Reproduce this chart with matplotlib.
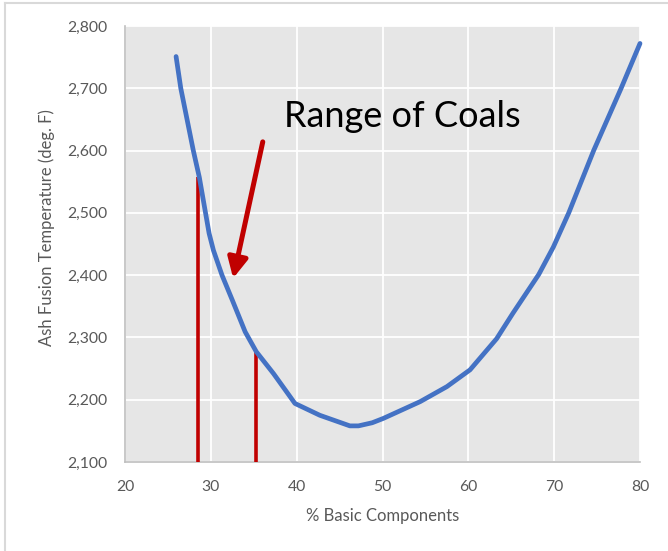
import matplotlib
matplotlib.use('Agg')
import matplotlib.pyplot as plt
from matplotlib.lines import Line2D
from matplotlib.ticker import FuncFormatter, MultipleLocator

plt.rcParams['font.family'] = ['Lato', 'DejaVu Sans']

# 曲线数据：碱性成分百分比 vs 灰熔融温度
basic_pct = [25.95, 26.5, 27.96, 28.66, 29.8, 30.3, 31.3, 32.5, 34.0, 35.3, 37.3, 39.8,
             42.7, 46.2, 47.2, 48.8, 50.1, 54.4, 57.5, 60.2, 63.3, 65.2, 68.2, 69.9,
             71.7, 74.6, 77.8, 80.0]
fusion_temp = [2751, 2700, 2600, 2557, 2467, 2440, 2400, 2360, 2309, 2277, 2242, 2194,
               2175, 2158, 2158, 2163, 2170, 2197, 2221, 2248, 2298, 2339, 2401, 2445,
               2500, 2600, 2700, 2772]

# 煤种范围的两条红线
range_x = [28.45, 35.3]
range_top = [2557, 2278]

# 注释文字与箭头
note_text = 'Range of Coals'
note_pos = (52.3, 2638)
arrow_start = (36.05, 2614)
arrow_end = (32.6, 2395)

blue = '#4472C4'
red = '#C00000'
gray_txt = '#595959'

fig = plt.figure(figsize=(6.68, 5.51), dpi=100)
ax = fig.add_axes([125 / 668, 1 - 462 / 551, 515 / 668, 436 / 551])
ax.set_facecolor('#e6e6e6')

ax.set_xlim(20, 80)
ax.set_ylim(2100, 2800)
ax.xaxis.set_major_locator(MultipleLocator(10))
ax.yaxis.set_major_locator(MultipleLocator(100))
ax.yaxis.set_major_formatter(FuncFormatter(lambda v, p: f'{v:,.0f}'))
ax.grid(True, color='white', lw=1.3)
ax.set_axisbelow(True)

for s in ['top', 'right']:
    ax.spines[s].set_visible(False)
for s in ['left', 'bottom']:
    ax.spines[s].set_color('#bfbfbf')
    ax.spines[s].set_linewidth(1.2)

ax.tick_params(length=0, labelsize=11.3, labelcolor=gray_txt)
ax.tick_params(axis='y', pad=13)
ax.tick_params(axis='x', pad=13)

ax.set_xlabel('% Basic Components', fontsize=12, color=gray_txt)
ax.set_ylabel('Ash Fusion Temperature (deg. F)', fontsize=12, color=gray_txt)
ax.xaxis.set_label_coords(0.5, -54 / 436, transform=ax.transAxes)
ax.yaxis.set_label_coords(-78 / 515, 0.537, transform=ax.transAxes)
ax.xaxis.label.set_va('center')
ax.yaxis.label.set_va('center')

# 红色竖线
for x, top in zip(range_x, range_top):
    ax.plot([x, x], [2100, top], color=red, lw=2.6, solid_capstyle='butt', zorder=3, clip_on=False)

# 蓝色曲线
ax.plot(basic_pct, fusion_temp, color=blue, lw=3.4, solid_capstyle='round',
        solid_joinstyle='round', zorder=4, clip_on=False)

# 箭头
ax.annotate('', xy=arrow_end, xytext=arrow_start,
            arrowprops=dict(arrowstyle='-|>,head_length=0.6,head_width=0.3',
                            mutation_scale=20, lw=3.6, color=red,
                            shrinkA=0, shrinkB=0), zorder=5)

ax.text(note_pos[0], note_pos[1], note_text, fontsize=26, ha='center',
        va='baseline', color='black', zorder=6)

# 外边框（只露出左边和上边）
fig.add_artist(Line2D([5 / 668, 5 / 668], [0, 1 - 3 / 551], color='#d9d9d9', lw=1.5))
fig.add_artist(Line2D([5 / 668, 1], [1 - 3 / 551, 1 - 3 / 551], color='#d9d9d9', lw=1.5))

fig.savefig('out.png', dpi=100)
